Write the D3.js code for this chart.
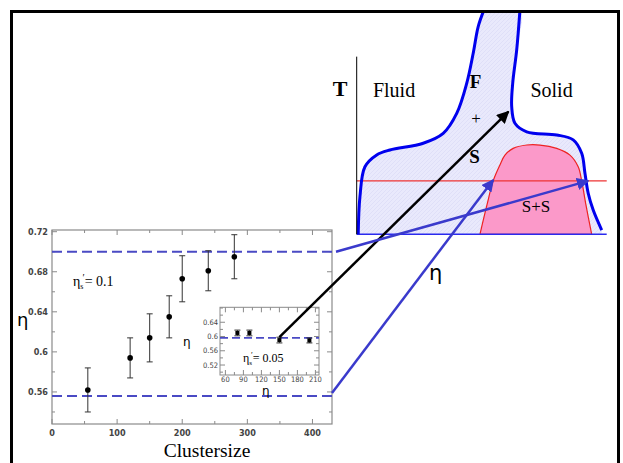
<!DOCTYPE html>
<html>
<head>
<script src="https://cdnjs.cloudflare.com/ajax/libs/d3/7.8.5/d3.min.js"></script>
<style>
  body { margin: 0; background: #fff; }
  .tick-lab { font-family: "Liberation Sans Narrow", "DejaVu Sans Condensed", "Liberation Sans", sans-serif; fill: #444; }
</style>
</head>
<body>
<div id="vis"></div>
<script>
// ---- main plot: eta vs cluster size ----
const clusterSize = [55, 120, 150, 180, 200, 240, 280];
const etaMean     = [0.562, 0.594, 0.614, 0.635, 0.673, 0.681, 0.695];
const etaErr      = [0.022, 0.020, 0.024, 0.021, 0.023, 0.020, 0.022];
const mainXTicks  = [0, 100, 200, 300, 400];
const mainYTicks  = [0.56, 0.6, 0.64, 0.68, 0.72];
const dashLevels  = [0.7, 0.556];

// ---- inset: eta vs n ----
const insetN      = [80, 100, 150, 200];
const insetEta    = [0.61, 0.61, 0.59, 0.589];
const insetErr    = [0.008, 0.008, 0.008, 0.007];
const insetXTicks = [60, 90, 120, 150, 180, 210];
const insetYTicks = [0.52, 0.56, 0.6, 0.64];
const insetDash   = 0.596;

// ---- phase diagram (density phi, temperature T, both 0..1) ----
const leftBranch = [[0.006,0],[0.013,0.168],[0.033,0.301],[0.08,0.354],[0.133,0.376],
  [0.266,0.406],[0.346,0.45],[0.40,0.539],[0.44,0.673],[0.466,0.807],[0.486,0.926],[0.509,1.0]];
const rightBranch = [[0.653,1.0],[0.64,0.822],[0.624,0.673],[0.62,0.569],[0.633,0.495],
  [0.68,0.457],[0.80,0.443],[0.866,0.421],[0.90,0.361],[0.913,0.272],[0.926,0.183],[0.946,0.108],[0.98,0.019]];
const ssRegion = [[0.493,0],[0.521,0.131],[0.546,0.238],[0.573,0.309],[0.593,0.353],[0.626,0.383],
  [0.68,0.398],[0.733,0.398],[0.80,0.383],[0.853,0.353],[0.886,0.301],[0.90,0.238],[0.917,0.131],[0.94,0]];
const tieLineT = 0.238;
const phaseLabels = [
  {t: "Fluid", phi: 0.065, T: 0.61, size: 20, bold: false},
  {t: "Solid", phi: 0.695, T: 0.61, size: 20, bold: false},
  {t: "F",     phi: 0.452, T: 0.652, size: 19, bold: true},
  {t: "+",     phi: 0.458, T: 0.49, size: 17, bold: false},
  {t: "S",     phi: 0.45, T: 0.32, size: 19, bold: true},
  {t: "S+S",   phi: 0.66, T: 0.1, size: 17, bold: false}
];

const SERIF = "'Liberation Serif', 'Times New Roman', 'DejaVu Serif', serif";
const SANS = "'DejaVu Sans', sans-serif";
const W = 623, H = 463;
const svg = d3.select("#vis").append("svg").attr("width", W).attr("height", H);
const defs = svg.append("defs");

const hatch = defs.append("pattern").attr("id", "hatch").attr("patternUnits", "userSpaceOnUse")
  .attr("width", 4).attr("height", 4);
hatch.append("rect").attr("width", 4).attr("height", 4).attr("fill", "#e9e9fc");
hatch.append("path").attr("d", "M-1,1 l2,-2 M0,4 l4,-4 M3,5 l2,-2").attr("stroke", "#dcdcf7").attr("stroke-width", 0.8);

function marker(id, color) {
  defs.append("marker").attr("id", id).attr("viewBox", "0 0 10 10").attr("refX", 9).attr("refY", 5)
    .attr("markerWidth", 5).attr("markerHeight", 5).attr("orient", "auto")
    .append("path").attr("d", "M0,0 L10,5 L0,10 z").attr("fill", color);
}
marker("arrBlack", "#000");
marker("arrBlue", "#3a3acc");

defs.append("clipPath").attr("id", "frameClip").append("rect").attr("x", 12).attr("y", 12).attr("width", 606).attr("height", 460);

// ===== phase diagram =====
const px = d3.scaleLinear().domain([0, 1]).range([356.7, 606.7]);
const pT = d3.scaleLinear().domain([0, 1]).range([234.3, 10]);
const pLine = d3.line().x(d => px(d[0])).y(d => pT(d[1])).curve(d3.curveCatmullRom);
const phase = svg.append("g").attr("clip-path", "url(#frameClip)");

const region = leftBranch.concat(rightBranch, [[0.98, 0]]);
phase.append("path").attr("d", pLine(region))
  .attr("fill", "url(#hatch)").attr("stroke", "none");
phase.append("path").attr("d", pLine(ssRegion) + "Z").attr("fill", "#fb99c9").attr("stroke", "#ee2222").attr("stroke-width", 1.2);
phase.append("line").attr("x1", px(0)).attr("x2", px(1)).attr("y1", pT(tieLineT)).attr("y2", pT(tieLineT))
  .attr("stroke", "#ee3333").attr("stroke-width", 1.2);
phase.append("line").attr("x1", px(0)).attr("x2", px(1)).attr("y1", pT(0)).attr("y2", pT(0))
  .attr("stroke", "#2a2aee").attr("stroke-width", 1.5);
[leftBranch, rightBranch].forEach(b => {
  phase.append("path").attr("d", pLine(b)).attr("fill", "none").attr("stroke", "#0000ee").attr("stroke-width", 3);
});
phase.append("line").attr("x1", px(0)).attr("x2", px(0)).attr("y1", pT(0)).attr("y2", pT(0.792))
  .attr("stroke", "#000").attr("stroke-width", 1);
svg.append("text").attr("font-family", SERIF).attr("x", px(0) - 24).attr("y", 96)
  .attr("font-size", 22).attr("font-weight", "bold").text("T");
svg.selectAll("text.plab").data(phaseLabels).join("text").attr("class", "plab").attr("font-family", SERIF)
  .attr("x", d => px(d.phi)).attr("y", d => pT(d.T))
  .attr("font-size", d => d.size).attr("font-weight", d => d.bold ? "bold" : "normal").text(d => d.t);

// ===== main plot =====
const xM = d3.scaleLinear().domain([0, 430]).range([52, 332]);
const yM = d3.scaleLinear().domain([0.528, 0.7217]).range([424, 230]);
const main = svg.append("g");
main.append("rect").attr("x", 52).attr("y", 230).attr("width", 280).attr("height", 194)
  .attr("fill", "#fff").attr("stroke", "#8a8a8a").attr("stroke-width", 1.2);

function frameTicks(g, xs, ys, xt, yt, major) {
  const [x0, x1] = xs.range(), [y0, y1] = ys.range();
  xt.forEach(v => {
    const len = major.x.includes(v) ? 5 : 3;
    g.append("line").attr("x1", xs(v)).attr("x2", xs(v)).attr("y1", y0).attr("y2", y0 - len).attr("stroke", "#8a8a8a");
    g.append("line").attr("x1", xs(v)).attr("x2", xs(v)).attr("y1", y1).attr("y2", y1 + len).attr("stroke", "#8a8a8a");
  });
  yt.forEach(v => {
    const len = major.y.includes(v) ? 5 : 3;
    g.append("line").attr("x1", x0).attr("x2", x0 + len).attr("y1", ys(v)).attr("y2", ys(v)).attr("stroke", "#8a8a8a");
    g.append("line").attr("x1", x1).attr("x2", x1 - len).attr("y1", ys(v)).attr("y2", ys(v)).attr("stroke", "#8a8a8a");
  });
}
frameTicks(main, xM, yM, d3.range(0, 430, 50), d3.range(0.54, 0.721, 0.02).map(v => +v.toFixed(2)),
  {x: mainXTicks, y: mainYTicks});

main.selectAll("text.mx").data(mainXTicks).join("text").attr("class", "tick-lab")
  .attr("x", d => xM(d)).attr("y", 436).attr("text-anchor", "middle").attr("font-size", 9).attr("font-weight", "bold").text(d => d);
main.selectAll("text.my").data(mainYTicks).join("text").attr("class", "tick-lab")
  .attr("x", 48).attr("y", d => yM(d) + 3).attr("text-anchor", "end").attr("font-size", 9).attr("font-weight", "bold")
  .text(d => d3.format("")(d));

main.selectAll("line.dash").data(dashLevels).join("line")
  .attr("x1", 52).attr("x2", 332).attr("y1", d => yM(d)).attr("y2", d => yM(d))
  .attr("stroke", "#4a4ac4").attr("stroke-width", 2).attr("stroke-dasharray", "10,5");

const pts = clusterSize.map((c, i) => ({x: c, y: etaMean[i], e: etaErr[i]}));
main.selectAll("g.pt").data(pts).join("g").each(function(d) {
  const g = d3.select(this);
  g.append("line").attr("x1", xM(d.x)).attr("x2", xM(d.x)).attr("y1", yM(d.y - d.e)).attr("y2", yM(d.y + d.e)).attr("stroke", "#333");
  [d.y - d.e, d.y + d.e].forEach(v => g.append("line").attr("x1", xM(d.x) - 3).attr("x2", xM(d.x) + 3)
    .attr("y1", yM(v)).attr("y2", yM(v)).attr("stroke", "#333"));
  g.append("circle").attr("cx", xM(d.x)).attr("cy", yM(d.y)).attr("r", 2.8).attr("fill", "#000");
});

main.append("text").attr("x", 17).attr("y", 326).attr("font-family", SANS).attr("font-size", 18).text("η");
main.append("text").attr("font-family", SERIF).attr("x", 207).attr("y", 457).attr("text-anchor", "middle")
  .attr("font-size", 19.5).text("Clustersize");
const lab1 = main.append("text").attr("font-family", SERIF).attr("x", 73).attr("y", 286).attr("font-size", 14);
lab1.append("tspan").text("η");
lab1.append("tspan").attr("font-size", 8).attr("dy", 3).text("s");
lab1.append("tspan").attr("font-size", 10).attr("dy", -8).attr("dx", -1).text("′");
lab1.append("tspan").attr("dy", 5).text("= 0.1");

// ===== inset =====
const xI = d3.scaleLinear().domain([51, 216]).range([220, 319]);
const yI = d3.scaleLinear().domain([0.492, 0.682]).range([375, 307.3]);
const inset = svg.append("g");
inset.append("rect").attr("x", 220).attr("y", 307.3).attr("width", 99).attr("height", 67.7)
  .attr("fill", "#fff").attr("stroke", "#8a8a8a").attr("stroke-width", 1);
frameTicks(inset, xI, yI, d3.range(60, 216, 15), d3.range(0.5, 0.681, 0.02).map(v => +v.toFixed(2)),
  {x: insetXTicks, y: insetYTicks});
inset.selectAll("text.ix").data(insetXTicks).join("text").attr("class", "tick-lab")
  .attr("x", d => xI(d)).attr("y", 382).attr("text-anchor", "middle").attr("font-size", 7.5).text(d => d);
inset.selectAll("text.iy").data(insetYTicks).join("text").attr("class", "tick-lab")
  .attr("x", 218).attr("y", d => yI(d) + 2.5).attr("text-anchor", "end").attr("font-size", 7.5).text(d => d3.format("")(d));
inset.append("line").attr("x1", 220).attr("x2", 319).attr("y1", yI(insetDash)).attr("y2", yI(insetDash))
  .attr("stroke", "#4a4ac4").attr("stroke-width", 1.8).attr("stroke-dasharray", "8,4");
const ipts = insetN.map((n, i) => ({x: n, y: insetEta[i], e: insetErr[i]}));
inset.selectAll("g.ip").data(ipts).join("g").each(function(d) {
  const g = d3.select(this);
  g.append("line").attr("x1", xI(d.x)).attr("x2", xI(d.x)).attr("y1", yI(d.y - d.e)).attr("y2", yI(d.y + d.e)).attr("stroke", "#333");
  [d.y - d.e, d.y + d.e].forEach(v => g.append("line").attr("x1", xI(d.x) - 3).attr("x2", xI(d.x) + 3)
    .attr("y1", yI(v)).attr("y2", yI(v)).attr("stroke", "#333"));
  g.append("rect").attr("x", xI(d.x) - 2).attr("y", yI(d.y) - 2).attr("width", 4).attr("height", 4).attr("fill", "#000");
});
inset.append("text").attr("x", 183).attr("y", 346).attr("font-family", SANS).attr("font-size", 12).text("η");
inset.append("text").attr("x", 262).attr("y", 395).attr("font-family", SANS).attr("font-size", 12).text("η");
const lab2 = inset.append("text").attr("font-family", SERIF).attr("x", 243).attr("y", 362).attr("font-size", 12);
lab2.append("tspan").text("η");
lab2.append("tspan").attr("font-size", 7).attr("dy", 3).text("s");
lab2.append("tspan").attr("font-size", 8).attr("dy", -7).attr("dx", -1).text("′");
lab2.append("tspan").attr("dy", 4).text("= 0.05");

// ===== arrows =====
svg.append("line").attr("x1", xI(150)).attr("y1", yI(0.598)).attr("x2", px(0.607)).attr("y2", pT(0.547))
  .attr("stroke", "#000").attr("stroke-width", 2.5).attr("marker-end", "url(#arrBlack)");
svg.append("line").attr("x1", 336).attr("y1", yM(dashLevels[0])).attr("x2", px(0.926)).attr("y2", pT(tieLineT))
  .attr("stroke", "#3a3acc").attr("stroke-width", 2.5).attr("marker-end", "url(#arrBlue)");
svg.append("line").attr("x1", 332).attr("y1", yM(dashLevels[1]) - 3).attr("x2", px(0.546)).attr("y2", pT(tieLineT) - 1)
  .attr("stroke", "#3a3acc").attr("stroke-width", 2.5).attr("marker-end", "url(#arrBlue)");
svg.append("text").attr("x", 429).attr("y", 280).attr("font-family", SANS).attr("font-size", 21).text("η");

// outer frame
svg.append("rect").attr("x", 11.5).attr("y", 11.5).attr("width", 607).attr("height", 470)
  .attr("fill", "none").attr("stroke", "#000").attr("stroke-width", 3);
</script>
</body>
</html>
